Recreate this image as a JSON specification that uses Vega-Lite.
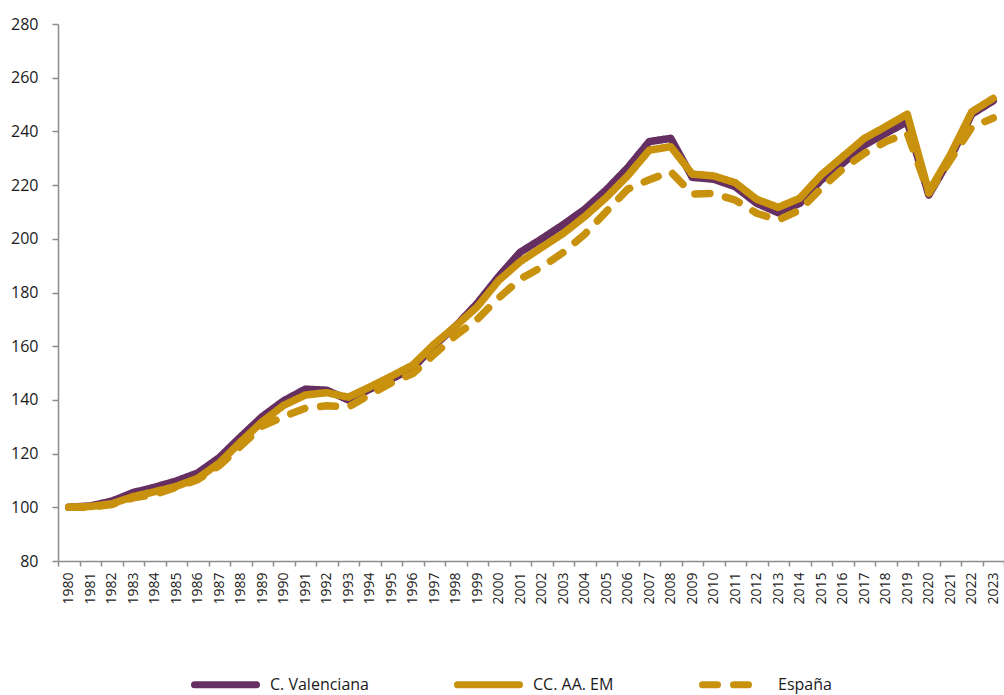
{
  "$schema": "https://vega.github.io/schema/vega-lite/v6.json",
  "width": 946,
  "height": 537,
  "autosize": {"type": "none"},
  "padding": {"left": 58, "top": 24, "right": 0, "bottom": 134},
  "background": "white",
  "config": {
    "view": {"stroke": null},
    "font": "Open Sans",
    "axis": {"grid": false, "domainColor": "#8c8c8c", "domainWidth": 1.5, "tickColor": "#8c8c8c", "tickWidth": 1.5, "labelColor": "#1a1a1a", "labelFont": "Open Sans", "title": null}
  },
  "data": {
    "values": [
      {"year": 1980, "serie": "C. Valenciana", "v": 100},
      {"year": 1981, "serie": "C. Valenciana", "v": 100.5},
      {"year": 1982, "serie": "C. Valenciana", "v": 102.3},
      {"year": 1983, "serie": "C. Valenciana", "v": 105.5},
      {"year": 1984, "serie": "C. Valenciana", "v": 107.5},
      {"year": 1985, "serie": "C. Valenciana", "v": 109.8},
      {"year": 1986, "serie": "C. Valenciana", "v": 112.8},
      {"year": 1987, "serie": "C. Valenciana", "v": 118.5},
      {"year": 1988, "serie": "C. Valenciana", "v": 126.3},
      {"year": 1989, "serie": "C. Valenciana", "v": 133.8},
      {"year": 1990, "serie": "C. Valenciana", "v": 139.7},
      {"year": 1991, "serie": "C. Valenciana", "v": 144},
      {"year": 1992, "serie": "C. Valenciana", "v": 143.6},
      {"year": 1993, "serie": "C. Valenciana", "v": 140},
      {"year": 1994, "serie": "C. Valenciana", "v": 144},
      {"year": 1995, "serie": "C. Valenciana", "v": 147.8},
      {"year": 1996, "serie": "C. Valenciana", "v": 151.8},
      {"year": 1997, "serie": "C. Valenciana", "v": 160.2},
      {"year": 1998, "serie": "C. Valenciana", "v": 167.5},
      {"year": 1999, "serie": "C. Valenciana", "v": 176},
      {"year": 2000, "serie": "C. Valenciana", "v": 186},
      {"year": 2001, "serie": "C. Valenciana", "v": 195},
      {"year": 2002, "serie": "C. Valenciana", "v": 200},
      {"year": 2003, "serie": "C. Valenciana", "v": 205.3},
      {"year": 2004, "serie": "C. Valenciana", "v": 211},
      {"year": 2005, "serie": "C. Valenciana", "v": 218.2},
      {"year": 2006, "serie": "C. Valenciana", "v": 226.5},
      {"year": 2007, "serie": "C. Valenciana", "v": 236.2},
      {"year": 2008, "serie": "C. Valenciana", "v": 237.4},
      {"year": 2009, "serie": "C. Valenciana", "v": 222.9},
      {"year": 2010, "serie": "C. Valenciana", "v": 222.2},
      {"year": 2011, "serie": "C. Valenciana", "v": 219.4},
      {"year": 2012, "serie": "C. Valenciana", "v": 213.2},
      {"year": 2013, "serie": "C. Valenciana", "v": 209.7},
      {"year": 2014, "serie": "C. Valenciana", "v": 213.2},
      {"year": 2015, "serie": "C. Valenciana", "v": 221.9},
      {"year": 2016, "serie": "C. Valenciana", "v": 228.1},
      {"year": 2017, "serie": "C. Valenciana", "v": 234.9},
      {"year": 2018, "serie": "C. Valenciana", "v": 239.3},
      {"year": 2019, "serie": "C. Valenciana", "v": 243.6},
      {"year": 2020, "serie": "C. Valenciana", "v": 216.3},
      {"year": 2021, "serie": "C. Valenciana", "v": 230},
      {"year": 2022, "serie": "C. Valenciana", "v": 246.4},
      {"year": 2023, "serie": "C. Valenciana", "v": 251.4},
      {"year": 1980, "serie": "CC. AA. EM", "v": 100},
      {"year": 1981, "serie": "CC. AA. EM", "v": 100.3},
      {"year": 1982, "serie": "CC. AA. EM", "v": 101.3},
      {"year": 1983, "serie": "CC. AA. EM", "v": 104},
      {"year": 1984, "serie": "CC. AA. EM", "v": 105.8},
      {"year": 1985, "serie": "CC. AA. EM", "v": 107.8},
      {"year": 1986, "serie": "CC. AA. EM", "v": 110.8},
      {"year": 1987, "serie": "CC. AA. EM", "v": 116.5},
      {"year": 1988, "serie": "CC. AA. EM", "v": 124.4},
      {"year": 1989, "serie": "CC. AA. EM", "v": 131.9},
      {"year": 1990, "serie": "CC. AA. EM", "v": 138},
      {"year": 1991, "serie": "CC. AA. EM", "v": 141.8},
      {"year": 1992, "serie": "CC. AA. EM", "v": 142.7},
      {"year": 1993, "serie": "CC. AA. EM", "v": 141},
      {"year": 1994, "serie": "CC. AA. EM", "v": 144.8},
      {"year": 1995, "serie": "CC. AA. EM", "v": 148.8},
      {"year": 1996, "serie": "CC. AA. EM", "v": 153},
      {"year": 1997, "serie": "CC. AA. EM", "v": 160.8},
      {"year": 1998, "serie": "CC. AA. EM", "v": 167.5},
      {"year": 1999, "serie": "CC. AA. EM", "v": 174.7},
      {"year": 2000, "serie": "CC. AA. EM", "v": 184.5},
      {"year": 2001, "serie": "CC. AA. EM", "v": 191.5},
      {"year": 2002, "serie": "CC. AA. EM", "v": 196.8},
      {"year": 2003, "serie": "CC. AA. EM", "v": 202},
      {"year": 2004, "serie": "CC. AA. EM", "v": 208.3},
      {"year": 2005, "serie": "CC. AA. EM", "v": 215.4},
      {"year": 2006, "serie": "CC. AA. EM", "v": 223.5},
      {"year": 2007, "serie": "CC. AA. EM", "v": 233},
      {"year": 2008, "serie": "CC. AA. EM", "v": 234.3},
      {"year": 2009, "serie": "CC. AA. EM", "v": 224.1},
      {"year": 2010, "serie": "CC. AA. EM", "v": 223.4},
      {"year": 2011, "serie": "CC. AA. EM", "v": 220.9},
      {"year": 2012, "serie": "CC. AA. EM", "v": 214.7},
      {"year": 2013, "serie": "CC. AA. EM", "v": 211.7},
      {"year": 2014, "serie": "CC. AA. EM", "v": 215.1},
      {"year": 2015, "serie": "CC. AA. EM", "v": 223.8},
      {"year": 2016, "serie": "CC. AA. EM", "v": 230.6},
      {"year": 2017, "serie": "CC. AA. EM", "v": 237.4},
      {"year": 2018, "serie": "CC. AA. EM", "v": 241.8},
      {"year": 2019, "serie": "CC. AA. EM", "v": 246.4},
      {"year": 2020, "serie": "CC. AA. EM", "v": 217.5},
      {"year": 2021, "serie": "CC. AA. EM", "v": 231.2},
      {"year": 2022, "serie": "CC. AA. EM", "v": 247.3},
      {"year": 2023, "serie": "CC. AA. EM", "v": 252.3},
      {"year": 1980, "serie": "España", "v": 100},
      {"year": 1981, "serie": "España", "v": 100},
      {"year": 1982, "serie": "España", "v": 101},
      {"year": 1983, "serie": "España", "v": 103.5},
      {"year": 1984, "serie": "España", "v": 104.8},
      {"year": 1985, "serie": "España", "v": 107.5},
      {"year": 1986, "serie": "España", "v": 110.3},
      {"year": 1987, "serie": "España", "v": 115.5},
      {"year": 1988, "serie": "España", "v": 122.8},
      {"year": 1989, "serie": "España", "v": 130.2},
      {"year": 1990, "serie": "España", "v": 133.8},
      {"year": 1991, "serie": "España", "v": 136.9},
      {"year": 1992, "serie": "España", "v": 137.8},
      {"year": 1993, "serie": "España", "v": 137.3},
      {"year": 1994, "serie": "España", "v": 142},
      {"year": 1995, "serie": "España", "v": 146.3},
      {"year": 1996, "serie": "España", "v": 149.8},
      {"year": 1997, "serie": "España", "v": 157},
      {"year": 1998, "serie": "España", "v": 164},
      {"year": 1999, "serie": "España", "v": 170},
      {"year": 2000, "serie": "España", "v": 178},
      {"year": 2001, "serie": "España", "v": 185},
      {"year": 2002, "serie": "España", "v": 189.5},
      {"year": 2003, "serie": "España", "v": 194.9},
      {"year": 2004, "serie": "España", "v": 201.7},
      {"year": 2005, "serie": "España", "v": 210.1},
      {"year": 2006, "serie": "España", "v": 218.5},
      {"year": 2007, "serie": "España", "v": 222},
      {"year": 2008, "serie": "España", "v": 225},
      {"year": 2009, "serie": "España", "v": 216.7},
      {"year": 2010, "serie": "España", "v": 216.9},
      {"year": 2011, "serie": "España", "v": 214.4},
      {"year": 2012, "serie": "España", "v": 209.5},
      {"year": 2013, "serie": "España", "v": 207},
      {"year": 2014, "serie": "España", "v": 210.7},
      {"year": 2015, "serie": "España", "v": 218.8},
      {"year": 2016, "serie": "España", "v": 226},
      {"year": 2017, "serie": "España", "v": 231.8},
      {"year": 2018, "serie": "España", "v": 236.2},
      {"year": 2019, "serie": "España", "v": 239.3},
      {"year": 2020, "serie": "España", "v": 217},
      {"year": 2021, "serie": "España", "v": 229.3},
      {"year": 2022, "serie": "España", "v": 241.5},
      {"year": 2023, "serie": "España", "v": 245}
    ]
  },
  "mark": {"type": "line", "strokeWidth": 7.5, "strokeCap": "round", "strokeJoin": "round"},
  "encoding": {
    "x": {
      "field": "year",
      "type": "ordinal",
      "scale": {"type": "band", "paddingInner": 0, "paddingOuter": 0},
      "axis": {"labelAngle": -90, "labelFontSize": 14, "tickSize": 5, "tickBand": "extent", "labelPadding": 6, "labelAlign": "right", "labelBaseline": "middle"}
    },
    "y": {
      "field": "v",
      "type": "quantitative",
      "scale": {"domain": [80, 280], "nice": false, "zero": false},
      "axis": {"values": [80, 100, 120, 140, 160, 180, 200, 220, 240, 260, 280], "labelFontSize": 16, "tickSize": 6, "labelPadding": 14}
    },
    "color": {
      "field": "serie",
      "type": "nominal",
      "sort": ["C. Valenciana", "CC. AA. EM", "España"],
      "scale": {"domain": ["C. Valenciana", "CC. AA. EM", "España"], "range": ["#662F62", "#C8920E", "#C8920E"]},
      "legend": {
        "orient": "none",
        "direction": "horizontal",
        "legendX": 133,
        "legendY": 626,
        "title": null,
        "symbolType": "stroke",
        "symbolSize": 3844,
        "symbolStrokeWidth": 7,
        "labelFontSize": 16,
        "labelColor": "#1a1a1a",
        "labelFont": "Open Sans",
        "labelOffset": 10,
        "columnPadding": 74,
        "symbolLimit": 3,
        "encode": {
          "symbols": {"update": {"strokeCap": {"value": "round"}, "strokeDash": {"signal": "datum.value === 'España' ? [12, 13] : [1, 0]"}}}
        }
      }
    },
    "strokeDash": {
      "field": "serie",
      "type": "nominal",
      "sort": ["C. Valenciana", "CC. AA. EM", "España"],
      "scale": {"domain": ["C. Valenciana", "CC. AA. EM", "España"], "range": [[1, 0], [1, 0], [15, 16]]},
      "legend": null
    }
  }
}
